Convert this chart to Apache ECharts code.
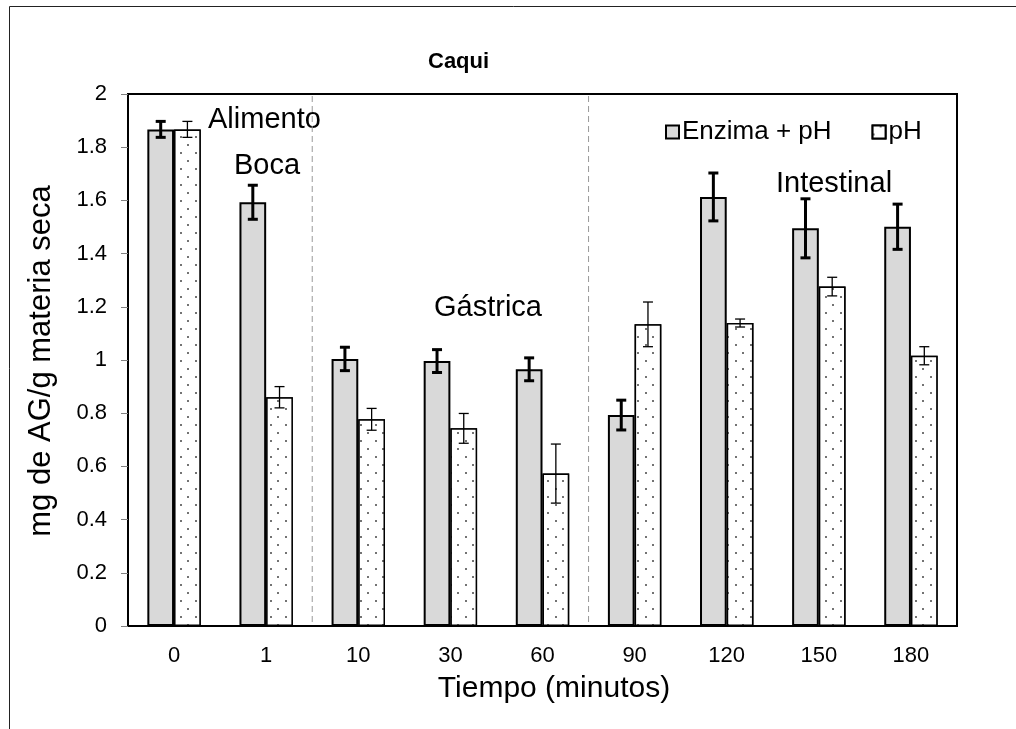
<!DOCTYPE html>
<html>
<head>
<meta charset="utf-8">
<script src="https://cdn.jsdelivr.net/npm/echarts@6/dist/echarts.min.js"></script>
<style>
  html, body { margin: 0; padding: 0; background: #fff; }
  #chart { width: 1016px; height: 729px; }
</style>
</head>
<body>
<div id="chart"></div>
<script>
var categories = ['0', '1', '10', '30', '60', '90', '120', '150', '180'];
var enzimaPH = [1.867, 1.593, 1.004, 0.996, 0.965, 0.793, 1.613, 1.495, 1.501];
var enzimaErr = [0.03, 0.064, 0.044, 0.043, 0.043, 0.056, 0.09, 0.111, 0.085];
var soloPH = [1.867, 0.86, 0.777, 0.743, 0.573, 1.134, 1.139, 1.276, 1.016];
var soloErr = [0.03, 0.04, 0.041, 0.056, 0.111, 0.084, 0.015, 0.035, 0.034];
// fases: separadores despues de estas categorias
var separators = ['1', '60'];

var FONT = 'Liberation Sans, Arial, sans-serif';
var BAR_FRAC = 0.29;

function errData(vals, errs) {
    return vals.map(function (v, i) { return [i, v, errs[i]]; });
}

function errRender(side, lw) {
    return function (params, api) {
        var idx = api.value(0), v = api.value(1), e = api.value(2);
        var band = api.size([1, 0])[0];
        var c = api.coord([idx, v]);
        var x = c[0] + side * band * BAR_FRAC / 2;
        var hi = api.coord([idx, v + e])[1];
        var lo = api.coord([idx, v - e])[1];
        var st = { stroke: '#000', lineWidth: lw };
        return {
            type: 'group',
            children: [
                { type: 'line', shape: { x1: x, y1: hi, x2: x, y2: lo }, style: st },
                { type: 'line', shape: { x1: x - 5, y1: hi, x2: x + 5, y2: hi }, style: st },
                { type: 'line', shape: { x1: x - 5, y1: lo, x2: x + 5, y2: lo }, style: st }
            ]
        };
    };
}

var chart = echarts.init(document.getElementById('chart'));
var option = {
    animation: false,
    title: {
        text: 'Caqui',
        left: 423, top: 46,
        textStyle: { fontFamily: FONT, fontSize: 22, fontWeight: 'bold', color: '#000' }
    },
    legend: {
        data: ['Enzima + pH', 'pH'],
        left: 660, top: 114,
        icon: 'rect',
        itemWidth: 13, itemHeight: 13, itemGap: 40,
        textStyle: { fontFamily: FONT, fontSize: 26, color: '#000', padding: [0, 0, 0, -2] }
    },
    grid: { left: 128, top: 94, right: 59, bottom: 103, show: true, borderColor: '#000', borderWidth: 2 },
    xAxis: {
        type: 'category',
        data: categories,
        axisLine: { lineStyle: { color: '#000', width: 2 } },
        axisTick: { lineStyle: { color: '#808080' }, length: 7 },
        axisLabel: { fontFamily: FONT, fontSize: 22, color: '#000', margin: 19 }
    },
    yAxis: {
        type: 'value',
        min: 0, max: 2, interval: 0.2,
        splitLine: { show: false },
        axisLine: { show: true, lineStyle: { color: '#000', width: 2 } },
        axisTick: { show: true, lineStyle: { color: '#808080' }, length: 7 },
        axisLabel: { fontFamily: FONT, fontSize: 22, color: '#000', margin: 21 }
    },
    graphic: [
        { type: 'rect', silent: true, shape: { x: 9.5, y: 6.5, width: 1200, height: 1200 },
          style: { fill: 'none', stroke: '#222', lineWidth: 1 } },
        { type: 'text', x: 208, y: 120, style: { text: 'Alimento', font: '29px ' + FONT, fill: '#000', textVerticalAlign: 'middle' } },
        { type: 'text', x: 234, y: 166, style: { text: 'Boca', font: '29px ' + FONT, fill: '#000', textVerticalAlign: 'middle' } },
        { type: 'text', x: 488, y: 308, style: { text: 'Gástrica', font: '29px ' + FONT, fill: '#000', textAlign: 'center', textVerticalAlign: 'middle' } },
        { type: 'text', x: 776, y: 184, style: { text: 'Intestinal', font: '29px ' + FONT, fill: '#000', textVerticalAlign: 'middle' } },
        { type: 'text', x: 554, y: 689, style: { text: 'Tiempo (minutos)', font: '30px ' + FONT, fill: '#000', textAlign: 'center', textVerticalAlign: 'middle' } },
        { type: 'text', x: 41, y: 361, rotation: Math.PI / 2,
          style: { text: 'mg de AG/g materia seca', font: '31px ' + FONT, fill: '#000', textAlign: 'center', textVerticalAlign: 'middle' } }
    ],
    series: [
        {
            name: 'Enzima + pH', type: 'bar', data: enzimaPH,
            barWidth: (BAR_FRAC * 100) + '%', barGap: '0%',
            itemStyle: { color: '#d9d9d9', borderColor: '#000', borderWidth: 2 }
        },
        {
            name: 'pH', type: 'bar', data: soloPH,
            barWidth: (BAR_FRAC * 100) + '%', barGap: '0%',
            itemStyle: {
                color: '#fff', borderColor: '#000', borderWidth: 1.5,
                decal: {
                    symbol: 'circle', symbolSize: 1, color: '#444', backgroundColor: '#fff',
                    dashArrayX: [[2, 13], [0, 7, 2, 6]],
                    dashArrayY: [2, 6]
                }
            }
        },
        {
            type: 'custom', name: 'errEnz', z: 5,
            data: errData(enzimaPH, enzimaErr),
            encode: { x: 0, y: 1 },
            renderItem: errRender(-1, 3)
        },
        {
            type: 'custom', name: 'errPH', z: 5,
            data: errData(soloPH, soloErr),
            encode: { x: 0, y: 1 },
            renderItem: errRender(1, 1.3)
        },
        {
            type: 'custom', name: 'sep', z: 1,
            data: separators.map(function (s) { return [categories.indexOf(s), 0]; }),
            encode: { x: 0, y: 1 },
            renderItem: function (params, api) {
                var band = api.size([1, 0])[0];
                var x = api.coord([api.value(0), 0])[0] + band / 2;
                var cs = params.coordSys;
                return {
                    type: 'line',
                    shape: { x1: x, y1: cs.y + 2, x2: x, y2: cs.y + cs.height - 4 },
                    style: { stroke: '#999', lineWidth: 1, lineDash: [6, 4] }
                };
            }
        }
    ]
};
chart.setOption(option);
</script>
</body>
</html>
